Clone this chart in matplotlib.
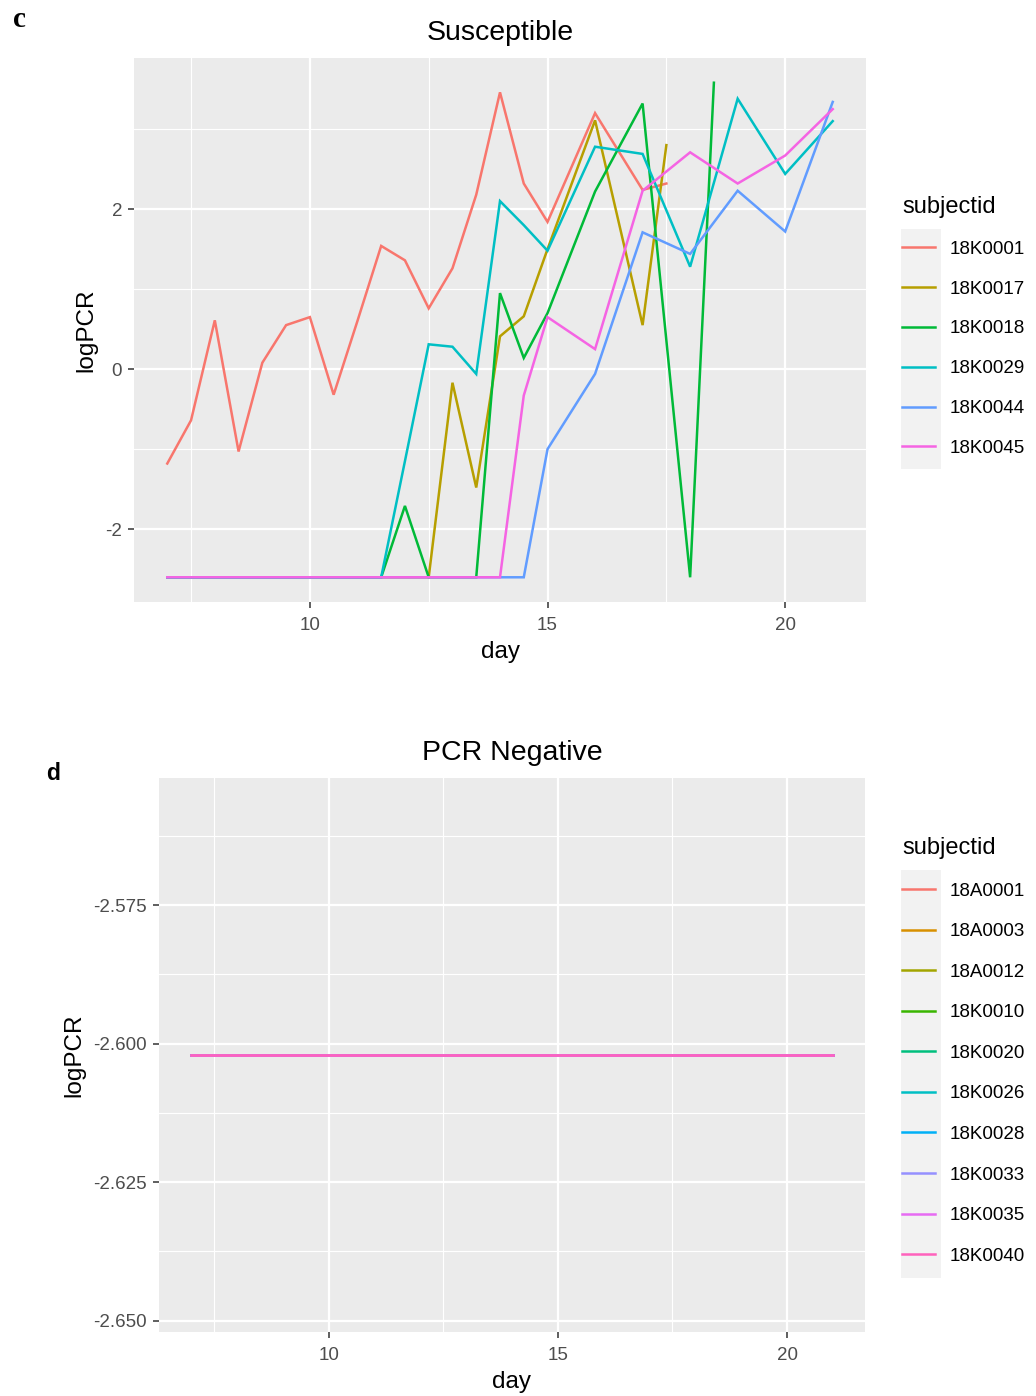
import matplotlib
matplotlib.use("Agg")
import matplotlib.pyplot as plt
from matplotlib.patches import Rectangle
from matplotlib.ticker import FixedLocator

plt.rcParams['font.family'] = ['Liberation Sans', 'DejaVu Sans']
plt.rcParams['axes.unicode_minus'] = False

# ---------------- data: panel c (Susceptible) ----------------
subjects_c = ["18K0001", "18K0017", "18K0018", "18K0029", "18K0044", "18K0045"]
colors_c = ["#F8766D", "#B79F00", "#00BA38", "#00BFC4", "#619CFF", "#F564E3"]

days_18K0001 = [7, 7.5, 8, 8.5, 9, 9.5, 10, 10.5, 11, 11.5, 12, 12.5, 13, 13.5, 14, 14.5, 15, 16, 17, 17.5]
pcr_18K0001 = [-1.18, -0.64, 0.61, -1.03, 0.08, 0.55, 0.65, -0.32, 0.60, 1.54, 1.36, 0.76, 1.26, 2.18, 3.46, 2.32, 1.84, 3.20, 2.24, 2.32]

days_18K0017 = [7, 12.5, 13, 13.5, 14, 14.5, 15, 16, 17, 17.5]
pcr_18K0017 = [-2.602, -2.602, -0.17, -1.48, 0.41, 0.66, 1.50, 3.11, 0.55, 2.80]

days_18K0018 = [7, 11.5, 12, 12.5, 13.5, 14, 14.5, 15, 16, 17, 18, 18.5]
pcr_18K0018 = [-2.602, -2.602, -1.71, -2.602, -2.602, 0.95, 0.14, 0.70, 2.22, 3.32, -2.602, 3.58]

days_18K0029 = [7, 11.5, 12, 12.5, 13, 13.5, 14, 14.5, 15, 16, 17, 18, 19, 20, 21]
pcr_18K0029 = [-2.602, -2.602, -1.15, 0.31, 0.28, -0.06, 2.10, 1.80, 1.48, 2.78, 2.69, 1.28, 3.38, 2.44, 3.10]

days_18K0044 = [7, 14.5, 15, 16, 17, 18, 19, 20, 21]
pcr_18K0044 = [-2.602, -2.602, -1.00, -0.06, 1.71, 1.44, 2.23, 1.72, 3.34]

days_18K0045 = [7, 14, 14.5, 15, 16, 17, 18, 19, 20, 21]
pcr_18K0045 = [-2.602, -2.602, -0.33, 0.65, 0.25, 2.23, 2.71, 2.32, 2.67, 3.25]

series_c = [
    (days_18K0001, pcr_18K0001),
    (days_18K0017, pcr_18K0017),
    (days_18K0018, pcr_18K0018),
    (days_18K0029, pcr_18K0029),
    (days_18K0044, pcr_18K0044),
    (days_18K0045, pcr_18K0045),
]

# ---------------- data: panel d (PCR Negative) ----------------
subjects_d = ["18A0001", "18A0003", "18A0012", "18K0010", "18K0020",
              "18K0026", "18K0028", "18K0033", "18K0035", "18K0040"]
colors_d = ["#F8766D", "#D89000", "#A3A500", "#39B600", "#00BF7D",
            "#00BFC4", "#00B0F6", "#9590FF", "#E76BF3", "#FF62BC"]
days_d = [7, 21]
pcr_d = [-2.60206, -2.60206]

xticks = [10, 15, 20]
yticks_c = [-2, 0, 2]
yticks_d = [-2.650, -2.625, -2.600, -2.575]

PANEL_BG = "#EBEBEB"
TICK_COL = "#4D4D4D"

fig = plt.figure(figsize=(10.36, 13.96), dpi=100)
W, H = 1036.0, 1396.0


def style_axes(ax):
    ax.set_facecolor(PANEL_BG)
    for s in ax.spines.values():
        s.set_visible(False)
    ax.grid(which='major', color='white', linewidth=1.6)
    ax.grid(which='minor', color='white', linewidth=0.8)
    ax.set_axisbelow(True)
    ax.tick_params(which='major', length=4, width=1.1, color='#333333',
                   labelcolor=TICK_COL, labelsize=13.5)
    ax.tick_params(axis='x', which='major', pad=6.5)
    ax.tick_params(axis='y', which='major', pad=4.5)
    ax.tick_params(which='minor', length=0)


def add_legend(handles, labels, x_px, top_px, spacing):
    leg = fig.legend(handles, labels, title="subjectid",
                     loc='upper left',
                     bbox_to_anchor=(x_px / W, 1 - top_px / H),
                     frameon=False, fontsize=13.5, title_fontsize=17,
                     handlelength=1.75, handletextpad=0.8,
                     labelspacing=spacing, borderpad=0, borderaxespad=0,
                     alignment='left')
    for lh in leg.legend_handles:
        lh.set_linewidth(1.8)
    return leg


# ---------------- panel c ----------------
ax1 = fig.add_axes([134 / W, 1 - 602 / H, (866 - 134) / W, (602 - 58) / H])
style_axes(ax1)
handles_c = []
for name, col, (dx, dy) in zip(subjects_c, colors_c, series_c):
    ln, = ax1.plot(dx, dy, color=col, linewidth=1.8, label=name,
                   solid_joinstyle='miter')
    handles_c.append(ln)
ax1.set_xlim(6.3, 21.7)
ax1.set_ylim(-2.911, 3.889)
ax1.xaxis.set_major_locator(FixedLocator(xticks))
ax1.xaxis.set_minor_locator(FixedLocator([7.5, 12.5, 17.5]))
ax1.yaxis.set_major_locator(FixedLocator(yticks_c))
ax1.yaxis.set_minor_locator(FixedLocator([-1, 1, 3]))
ax1.set_yticklabels([str(v) for v in yticks_c])
ax1.set_xlabel("day", fontsize=17.5, labelpad=5.5)
ax1.set_ylabel("logPCR", fontsize=17.5, labelpad=6)
ax1.set_title("Susceptible", fontsize=20.5, pad=13)

# legend key background
fig.add_artist(Rectangle((901 / W, 1 - 469 / H), 40 / W, 240 / H,
                         transform=fig.transFigure, facecolor="#F2F2F2",
                         edgecolor='none', zorder=0))
add_legend(handles_c, subjects_c, 902, 196, 1.21)

# ---------------- panel d ----------------
ax2 = fig.add_axes([159 / W, 1 - 1332 / H, (865 - 159) / W, (1332 - 778) / H])
style_axes(ax2)
handles_d = []
for name, col in zip(subjects_d, colors_d):
    ln, = ax2.plot(days_d, pcr_d, color=col, linewidth=1.8, label=name)
    handles_d.append(ln)
ax2.set_xlim(6.3, 21.7)
ax2.set_ylim(-2.65206, -2.55206)
ax2.xaxis.set_major_locator(FixedLocator(xticks))
ax2.xaxis.set_minor_locator(FixedLocator([7.5, 12.5, 17.5]))
ax2.yaxis.set_major_locator(FixedLocator(yticks_d))
ax2.yaxis.set_minor_locator(FixedLocator([-2.6375, -2.6125, -2.5875, -2.5625]))
ax2.set_yticklabels([f"{v:.3f}" for v in yticks_d])
ax2.set_xlabel("day", fontsize=17.5, labelpad=5.5)
ax2.set_ylabel("logPCR", fontsize=17.5, labelpad=6)
ax2.set_title("PCR Negative", fontsize=20.5, pad=13)

fig.add_artist(Rectangle((901 / W, 1 - 1278 / H), 40 / W, 408 / H,
                         transform=fig.transFigure, facecolor="#F2F2F2",
                         edgecolor='none', zorder=0))
add_legend(handles_d, subjects_d, 902, 837, 1.25)

# panel letters
fig.text(13 / W, 1 - 27 / H, "c", fontfamily="Liberation Serif",
         fontweight='bold', fontsize=21, ha='left', va='baseline')
fig.text(46 / W, 1 - 780 / H, "d", fontfamily="Liberation Sans",
         fontweight='bold', fontsize=16.5, ha='left', va='baseline')

fig.savefig("out.png", dpi=100)
